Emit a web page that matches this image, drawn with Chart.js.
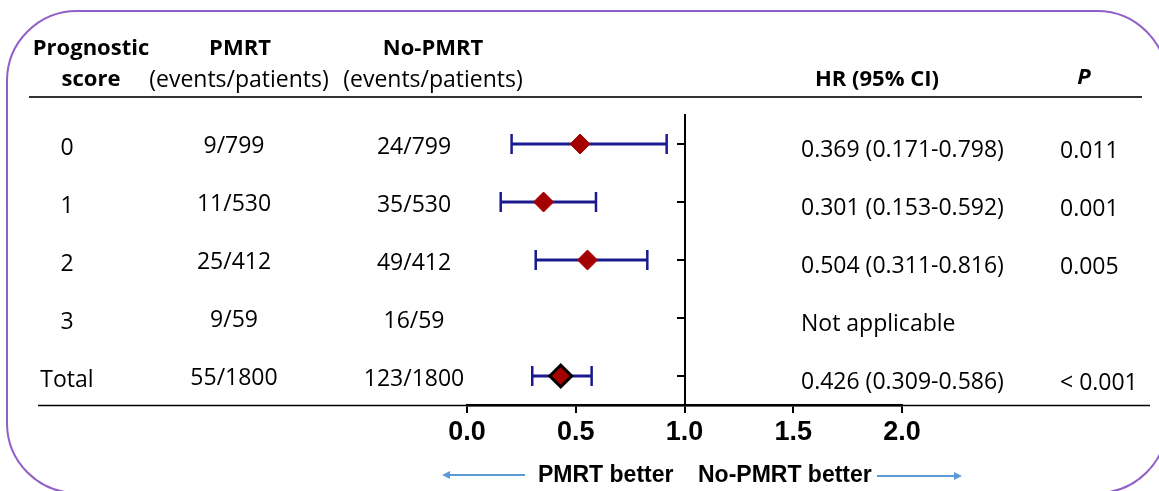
<!DOCTYPE html>
<html>
<head>
<meta charset="utf-8">
<script src="https://cdn.jsdelivr.net/npm/chart.js@4.4.1/dist/chart.umd.min.js"></script>
<style>
  html, body { margin: 0; padding: 0; background: #fff; }
  #wrap { width: 1159px; height: 491px; }
</style>
</head>
<body>
<div id="wrap"><canvas id="forestChart" width="1159" height="491"></canvas></div>
<script>
// ----------------------------------------
// Data
// ----------------------------------------
const scores = ['0', '1', '2', '3', 'Total'];
const pmrtEvents = ['9/799', '11/530', '25/412', '9/59', '55/1800'];
const noPmrtEvents = ['24/799', '35/530', '49/412', '16/59', '123/1800'];

// printed hazard ratios (table text)
const hr = [0.369, 0.301, 0.504, null, 0.426];
const hrLow = [0.171, 0.153, 0.311, null, 0.309];
const hrHigh = [0.798, 0.592, 0.816, null, 0.586];
const pValues = ['0.011', '0.001', '0.005', '', '< 0.001'];

// where the marks sit in the figure (they don't match the table exactly)
const markHr = [0.52, 0.352, 0.554, null, 0.431];
const markLow = [0.205, 0.155, 0.316, null, 0.30];
const markHigh = [0.918, 0.593, 0.829, null, 0.573];

const xTicks = [0, 0.5, 1, 1.5, 2];

const NAVY = '#1a1a8e';
const RED = '#a50000';
const FONT = "'Open Sans', 'Noto Sans', sans-serif";
const AXIS_FONT = "'Liberation Sans', Arial, sans-serif";

function hrText(i) {
    if (hr[i] === null) return 'Not applicable';
    return hr[i].toFixed(3) + ' (' + hrLow[i].toFixed(3) + '-' + hrHigh[i].toFixed(3) + ')';
}

// diamonds, caps and CI lines built from the arrays above
const diamondPoints = [];
const capPoints = [];
scores.forEach((s, i) => {
    if (markHr[i] === null) return;
    diamondPoints.push({ x: markHr[i], y: s });
    capPoints.push({ x: markLow[i], y: s }, { x: markHigh[i], y: s });
});
const ciBars = markLow.map((lo, i) => lo === null ? null : [lo, markHigh[i]]);

// ----------------------------------------
// Table text, frame, arrows
// ----------------------------------------
function drawArrow(ctx, x1, x2, y) {
    const dir = Math.sign(x2 - x1);
    ctx.beginPath();
    ctx.moveTo(x1, y);
    ctx.lineTo(x2 - dir * 4, y);
    ctx.stroke();
    ctx.beginPath();
    ctx.moveTo(x2, y);
    ctx.lineTo(x2 - dir * 8, y - 4);
    ctx.lineTo(x2 - dir * 8, y + 4);
    ctx.closePath();
    ctx.fill();
}

const tablePlugin = {
    id: 'tablePlugin',
    beforeDraw(chart) {
        const ctx = chart.ctx;
        ctx.save();
        ctx.strokeStyle = '#9060c8';
        ctx.lineWidth = 2;
        ctx.beginPath();
        ctx.roundRect(7, 11, 1160, 482, 70);
        ctx.stroke();
        ctx.restore();
    },
    afterDraw(chart) {
        const ctx = chart.ctx;
        const yScale = chart.scales.y;
        ctx.save();
        ctx.fillStyle = '#000';

        // header
        ctx.textBaseline = 'alphabetic';
        ctx.textAlign = 'center';
        ctx.font = 'bold 22px ' + FONT;
        ctx.fillText('Prognostic', 91, 55);
        ctx.fillText('score', 91, 86);
        ctx.fillText('PMRT', 240, 55);
        ctx.fillText('No-PMRT', 433, 55);
        ctx.fillText('HR (95% CI)', 877, 86);
        ctx.font = 'italic bold 22px ' + FONT;
        ctx.fillText('P', 1084, 84);
        ctx.font = '23px ' + FONT;
        ctx.fillText('(events/patients)', 239, 87);
        ctx.fillText('(events/patients)', 433, 87);

        // header rule and bottom rule
        ctx.strokeStyle = '#333';
        ctx.lineWidth = 2;
        ctx.beginPath();
        ctx.moveTo(29, 97);
        ctx.lineTo(1142, 97);
        ctx.stroke();
        ctx.strokeStyle = '#000';
        ctx.lineWidth = 1.5;
        ctx.beginPath();
        ctx.moveTo(38, 405.5);
        ctx.lineTo(1150, 405.5);
        ctx.stroke();

        // rows
        ctx.font = '23px ' + FONT;
        scores.forEach((s, i) => {
            const y = yScale.getPixelForValue(i);
            ctx.textAlign = 'center';
            ctx.fillText(s, 67, y + 11);
            ctx.fillText(pmrtEvents[i], 234, y + 9);
            ctx.fillText(noPmrtEvents[i], 414, y + 10);
            ctx.textAlign = 'left';
            ctx.fillText(hrText(i), 801, y + 13);
            ctx.fillText(pValues[i], 1060, y + 14);
        });

        // direction arrows
        ctx.strokeStyle = '#5b9bd5';
        ctx.fillStyle = '#5b9bd5';
        ctx.lineWidth = 2;
        drawArrow(ctx, 525, 442, 475);
        drawArrow(ctx, 877, 962, 476);
        ctx.fillStyle = '#000';
        ctx.textAlign = 'left';
        ctx.font = 'bold 23px ' + AXIS_FONT;
        ctx.fillText('PMRT better', 538, 482);
        ctx.fillText('No-PMRT better', 698, 482);
        ctx.restore();
    }
};

// ----------------------------------------
// Chart
// ----------------------------------------
new Chart(document.getElementById('forestChart'), {
    type: 'bar',
    data: {
        labels: scores,
        datasets: [
            {
                type: 'scatter',
                data: diamondPoints,
                order: 0,
                pointStyle: 'rectRot',
                pointRadius: ctx => ctx.raw && ctx.raw.y === 'Total' ? 11 : 10,
                pointBackgroundColor: RED,
                pointBorderColor: ctx => ctx.raw && ctx.raw.y === 'Total' ? '#000' : RED,
                pointBorderWidth: ctx => ctx.raw && ctx.raw.y === 'Total' ? 3 : 1
            },
            {
                type: 'scatter',
                data: capPoints,
                order: 1,
                pointStyle: 'line',
                rotation: 90,
                pointRadius: 10,
                pointBorderColor: NAVY,
                pointBorderWidth: 2.5
            },
            {
                type: 'bar',
                data: ciBars,
                order: 2,
                backgroundColor: NAVY,
                borderWidth: 0,
                barThickness: 2.5
            }
        ]
    },
    options: {
        responsive: false,
        animation: false,
        indexAxis: 'y',
        layout: { padding: { left: 467, right: 257, top: 115, bottom: 0 } },
        plugins: {
            legend: { display: false },
            tooltip: { enabled: false }
        },
        scales: {
            x: {
                type: 'linear',
                min: 0,
                max: 2,
                afterBuildTicks: s => { s.ticks = xTicks.map(v => ({ value: v })); },
                afterFit: s => { s.height = 86; },
                border: { display: true, color: '#000', width: 2.5 },
                grid: { drawOnChartArea: false, drawTicks: true, tickLength: 8, color: '#000', lineWidth: 2 },
                ticks: {
                    color: '#000',
                    padding: 3,
                    autoSkip: false,
                    maxRotation: 0,
                    font: { family: AXIS_FONT, size: 27, weight: 'bold' },
                    callback: v => Number(v).toFixed(1)
                }
            },
            y: {
                type: 'category',
                labels: scores,
                offset: true,
                position: { x: 1 },
                border: { display: true, color: '#000', width: 2 },
                grid: { drawOnChartArea: false, drawTicks: true, tickLength: 7, color: '#000', lineWidth: 2, offset: false },
                ticks: { display: false }
            }
        }
    },
    plugins: [tablePlugin]
});
</script>
</body>
</html>
